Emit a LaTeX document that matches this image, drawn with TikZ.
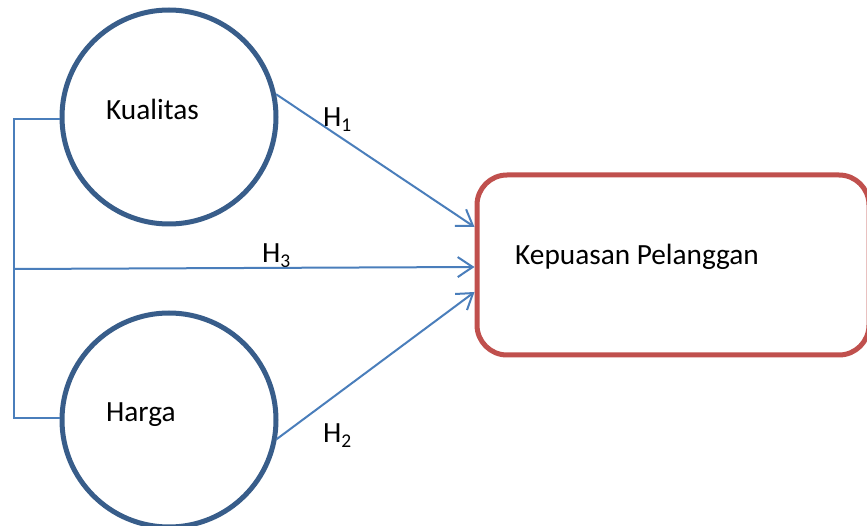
\documentclass[tikz,border=0pt]{standalone}
\usepackage{fontspec}
\setmainfont{Carlito}
\usetikzlibrary{arrows.meta}
\definecolor{circblue}{HTML}{385D8A}
\definecolor{lineblue}{HTML}{4A7EBB}
\definecolor{boxred}{HTML}{C0504D}
\newcommand{\hsub}[1]{H\raisebox{-5pt}{\fontsize{19.5}{20}\selectfont #1}}

\begin{document}
\begin{tikzpicture}[x=1pt, y=-1pt,
    var/.style = {circle, draw=circblue, line width=5pt,
                minimum size=214pt, inner sep=0pt},
    dep/.style = {rectangle, draw=boxred, line width=5pt, rounded corners=30pt,
                minimum width=392pt, minimum height=180pt},
    txt/.style = {anchor=base west, inner sep=0pt, font=\fontsize{29.3}{35}\selectfont},
    conn/.style = {lineblue, line width=2pt},
    hyp/.style = {conn, -{Straight Barb[length=15pt, width=20pt, line width=2pt]}}
                    ]
        \useasboundingbox (0,0) rectangle (867,526);
        \node[var] (kual) at (169,117) {};
        \node[var] (harga) at (169,420) {};
        \node[dep] (kep) at (673,265) {};
        \node[txt] (kualtxt) at (106,120) {Kualitas};
        \node[txt] (hargatxt) at (106,421) {Harga};
        \node[txt] (keptxt) at (515,265) {Kepuasan Pelanggan};
        \foreach \x/\y/\n in {323/127/1, 323/442/2, 262/263/3}
            \node[txt] (h\n) at (\x,\y) {\hsub{\n}};
        \coordinate (brk) at (14,269);
        \draw [conn] ([yshift=-2pt]kual.west) -| (brk) |- ([yshift=2pt]harga.west);
        \draw [hyp] (kual.12) -- ([yshift=38pt]kep.west);
        \draw [hyp] (brk) -- ([yshift=-2pt]kep.west);
        \draw [hyp] (harga.-10) -- ([yshift=-27pt]kep.west);
    \end{tikzpicture}
\end{document}
